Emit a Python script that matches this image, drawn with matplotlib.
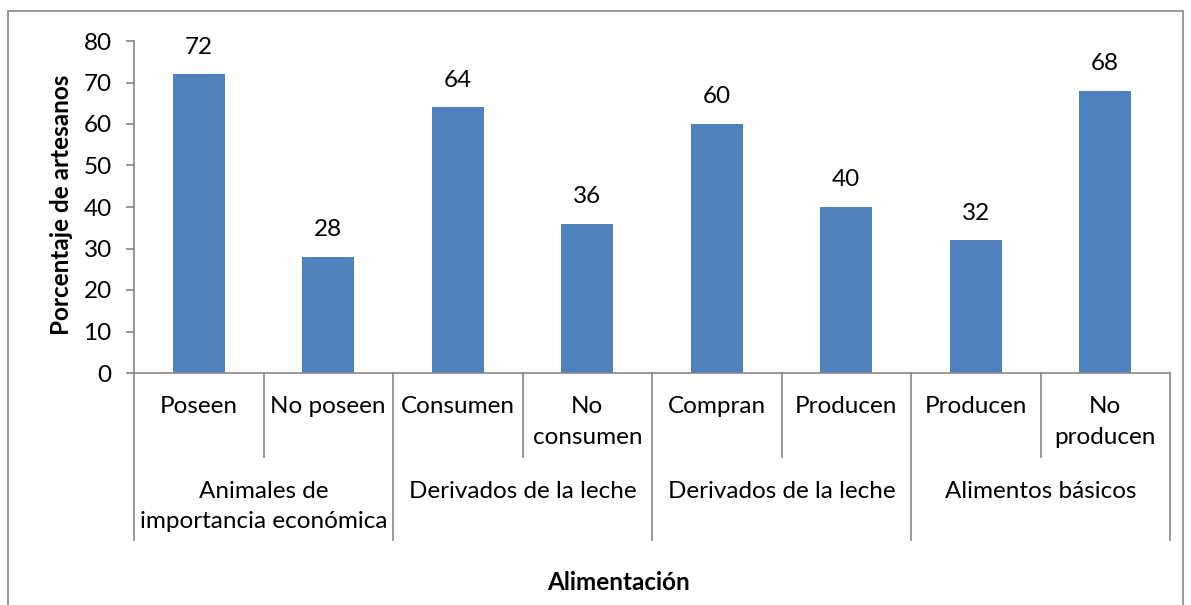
import matplotlib.pyplot as plt
from matplotlib.patches import Rectangle
import numpy as np

plt.rcParams['font.family'] = ['Lato', 'DejaVu Sans']

# datos
subcategorias = ['Poseen', 'No poseen', 'Consumen', 'No\nconsumen',
                 'Compran', 'Producen', 'Producen', 'No\nproducen']
grupos = ['Animales de\nimportancia económica', 'Derivados de la leche',
          'Derivados de la leche', 'Alimentos básicos']
porcentajes = [72, 28, 64, 36, 60, 40, 32, 68]

gris = '#868686'
azul = '#4F81BD'
fs = 17.5

fig = plt.figure(figsize=(11.91, 6.05), dpi=100)
ax = fig.add_axes([134/1191, 1 - 373/605, (1170 - 134)/1191, 332/605])

# marco exterior
fig.patches.append(Rectangle((8/1191, -0.05), (1183 - 8)/1191, 1.05 - 11/605,
                             transform=fig.transFigure, fill=False,
                             edgecolor=gris, linewidth=1.2))

x = np.arange(len(porcentajes))
ax.bar(x, porcentajes, width=0.4, color=azul)
for xi, v in zip(x, porcentajes):
    ax.annotate(str(v), (xi, v), xytext=(0, 12), textcoords='offset points',
                ha='center', va='bottom', fontsize=fs)

ax.set_xlim(-0.5, len(porcentajes) - 0.5)
ax.set_ylim(0, 80)
ax.set_yticks(range(0, 81, 10))
ax.tick_params(axis='y', labelsize=fs, length=6, color=gris, width=1.2, pad=10)
ax.set_xticks([])
for lado in ['top', 'right']:
    ax.spines[lado].set_visible(False)
for lado in ['left', 'bottom']:
    ax.spines[lado].set_color(gris)
    ax.spines[lado].set_linewidth(1.2)

tr = ax.get_xaxis_transform()
# lineas separadoras de categorias
for i in range(len(porcentajes) + 1):
    fondo = -0.503 if i % 2 == 0 else -0.253
    ax.plot([i - 0.5, i - 0.5], [0, fondo], color=gris, linewidth=1.2,
            transform=tr, clip_on=False)

for xi, s in zip(x, subcategorias):
    ax.text(xi, -0.07, s, transform=tr, ha='center', va='top', fontsize=fs,
            linespacing=1.55)
for g, nombre in enumerate(grupos):
    ax.text(2 * g + 0.5, -0.325, nombre, transform=tr, ha='center', va='top',
            fontsize=fs, linespacing=1.55)

fig.text(619/1191, 1 - 583/605, 'Alimentación', ha='center', va='center',
         fontsize=17.5, fontweight='bold')
fig.text(62/1191, 1 - 205/605, 'Porcentaje de artesanos', ha='center',
         va='center', rotation=90, fontsize=17.5, fontweight='bold')

fig.savefig('out.png', dpi=100)
